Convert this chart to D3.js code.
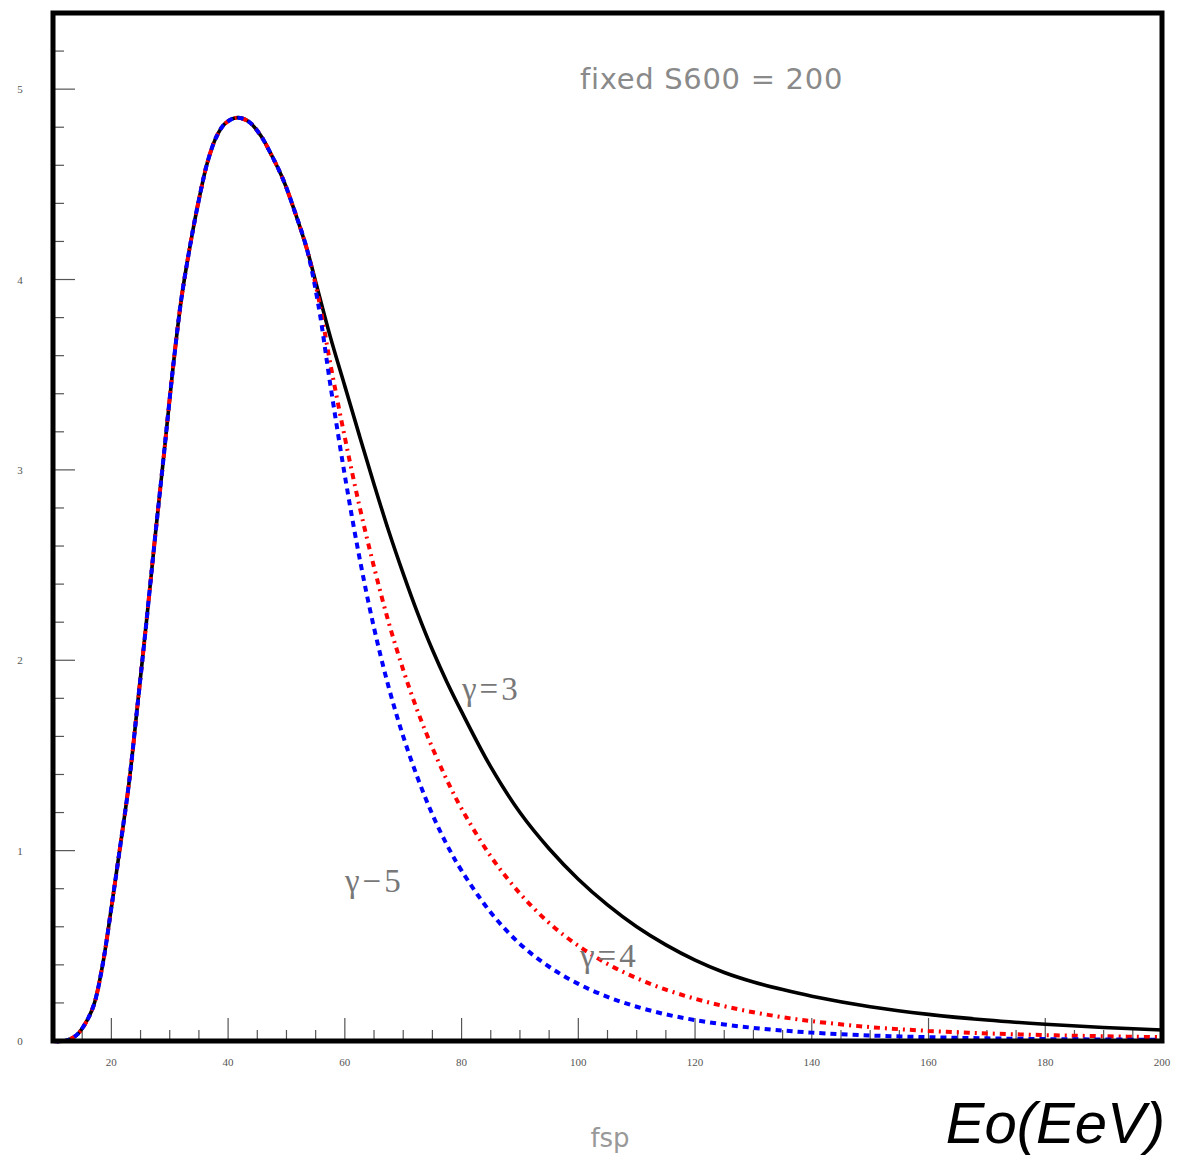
<!DOCTYPE html>
<html>
<head>
<meta charset="utf-8">
<script src="https://cdn.jsdelivr.net/npm/d3@7"></script>
<style>
  html, body { margin: 0; padding: 0; background: #fff; }
  svg { display: block; }
</style>
</head>
<body>
<svg id="chart" width="1179" height="1159"></svg>
<script>
// Energy grid (EeV) shared by all three curves
const energy = [10, 12, 14, 15.5, 17, 18.5, 20, 21.5, 23, 24.5, 26, 27.5, 29, 30.5, 32, 33.5, 35, 36.5, 38, 39.5,
  41.5, 43.5, 45.5, 47.5, 49.5, 51.5, 53.5, 55.5, 57.5, 60, 62.5, 65, 67.5, 70, 72.5, 75, 77.5, 80, 85, 90, 95,
  100, 105, 110, 115, 120, 125, 130, 135, 140, 150, 160, 170, 180, 190, 200];

// Common rising part (up to ~53.5 EeV)
const risePart = [0, 0.0, 0.03, 0.09, 0.19, 0.40, 0.70, 1.02, 1.35, 1.77, 2.20, 2.65, 3.08, 3.52, 3.90, 4.18,
  4.42, 4.62, 4.75, 4.82, 4.85, 4.83, 4.76, 4.65, 4.52, 4.35, 4.16];

// Tails for each spectral index
const tailGamma3 = [3.93, 3.70, 3.44, 3.18, 2.925, 2.68, 2.455, 2.245, 2.055, 1.885, 1.73, 1.44, 1.20, 1.01,
  0.85, 0.715, 0.60, 0.505, 0.425, 0.36, 0.31, 0.27, 0.235, 0.18, 0.14, 0.11, 0.088, 0.071, 0.058];
const tailGamma4 = [3.90, 3.56, 3.17, 2.81, 2.49, 2.20, 1.95, 1.73, 1.54, 1.37, 1.22, 0.97, 0.775, 0.62,
  0.50, 0.405, 0.33, 0.27, 0.222, 0.183, 0.151, 0.125, 0.104, 0.073, 0.053, 0.040, 0.031, 0.025, 0.020];
const tailGamma5 = [3.86, 3.45, 2.97, 2.54, 2.17, 1.86, 1.60, 1.38, 1.19, 1.03, 0.895, 0.675, 0.51, 0.39,
  0.30, 0.232, 0.18, 0.14, 0.11, 0.087, 0.069, 0.055, 0.044, 0.029, 0.020, 0.014, 0.010, 0.008, 0.006];

const gamma3 = risePart.concat(tailGamma3);
const gamma4 = risePart.concat(tailGamma4);
const gamma5 = risePart.concat(tailGamma5);

const xMajorTicks = [20, 40, 60, 80, 100, 120, 140, 160, 180, 200];
const yMajorTicks = [0, 1, 2, 3, 4, 5];

const svg = d3.select("#chart");
const x = d3.scaleLinear().domain([10, 200]).range([53, 1162]);
const y = d3.scaleLinear().domain([0, 5.4]).range([1041, 13]);

// minor ticks
const xMinor = d3.range(15, 200, 5).filter(v => v % 20 !== 0);
const yMinor = d3.range(0.2, 5.4, 0.2).filter(v => Math.abs(v - Math.round(v)) > 1e-6);

const ticks = svg.append("g").attr("stroke", "#555").attr("stroke-width", 1.2);
ticks.selectAll(".xmaj").data(xMajorTicks).join("line")
  .attr("x1", d => x(d)).attr("x2", d => x(d))
  .attr("y1", y(0)).attr("y2", y(0) - 23);
ticks.selectAll(".xmin").data(xMinor).join("line")
  .attr("x1", d => x(d)).attr("x2", d => x(d))
  .attr("y1", y(0)).attr("y2", y(0) - 11);
ticks.selectAll(".ymaj").data(yMajorTicks).join("line")
  .attr("x1", x(10)).attr("x2", x(10) + 22)
  .attr("y1", d => y(d)).attr("y2", d => y(d));
ticks.selectAll(".ymin").data(yMinor).join("line")
  .attr("x1", x(10)).attr("x2", x(10) + 11)
  .attr("y1", d => y(d)).attr("y2", d => y(d));

// tick labels
svg.append("g").selectAll("text").data(xMajorTicks).join("text")
  .attr("x", d => x(d)).attr("y", 1066)
  .attr("text-anchor", "middle")
  .attr("font-family", "Liberation Serif, serif").attr("font-size", 11)
  .attr("fill", "#555").text(d => d);
svg.append("g").selectAll("text").data(yMajorTicks).join("text")
  .attr("x", 20).attr("y", d => y(d) + 4)
  .attr("text-anchor", "middle")
  .attr("font-family", "Liberation Serif, serif").attr("font-size", 11)
  .attr("fill", "#555").text(d => d);

// curves
const line = d3.line()
  .x((d, i) => x(energy[i]))
  .y(d => y(d))
  .curve(d3.curveCatmullRom.alpha(0.5));

svg.append("path").datum(gamma3)
  .attr("d", line).attr("fill", "none")
  .attr("stroke", "#000").attr("stroke-width", 3.6);
svg.append("path").datum(gamma4)
  .attr("d", line).attr("fill", "none")
  .attr("stroke", "#f00").attr("stroke-width", 4)
  .attr("stroke-dasharray", "6,5,2,5");
svg.append("path").datum(gamma5)
  .attr("d", line).attr("fill", "none")
  .attr("stroke", "#00f").attr("stroke-width", 4)
  .attr("stroke-dasharray", "6,5");

// frame
svg.append("rect")
  .attr("x", x(10)).attr("y", y(5.4))
  .attr("width", x(200) - x(10)).attr("height", y(0) - y(5.4))
  .attr("fill", "none").attr("stroke", "#000").attr("stroke-width", 5);

// annotations
svg.append("text").attr("x", 580).attr("y", 89)
  .attr("font-family", "DejaVu Sans, sans-serif").attr("font-size", 29)
  .attr("letter-spacing", 0.7)
  .attr("fill", "#8a8a8a").text("fixed S600 = 200");

const gammaLabels = [
  { t: "γ=3", x: 462, y: 700 },
  { t: "γ−5", x: 345, y: 892 },
  { t: "γ=4", x: 580, y: 967 }
];
svg.append("g").selectAll("text").data(gammaLabels).join("text")
  .attr("x", d => d.x).attr("y", d => d.y)
  .attr("font-family", "Liberation Serif, serif").attr("font-size", 33)
  .attr("letter-spacing", 3)
  .attr("fill", "#777").text(d => d.t);

svg.append("text").attr("x", 610).attr("y", 1147)
  .attr("text-anchor", "middle")
  .attr("font-family", "DejaVu Sans, sans-serif").attr("font-size", 26)
  .attr("fill", "#999").text("fsp");

svg.append("text").attr("x", 1165).attr("y", 1143)
  .attr("text-anchor", "end")
  .attr("font-family", "Liberation Sans, Arial, sans-serif").attr("font-style", "italic")
  .attr("font-size", 58).attr("fill", "#000").text("Eo(EeV)");
</script>
</body>
</html>
